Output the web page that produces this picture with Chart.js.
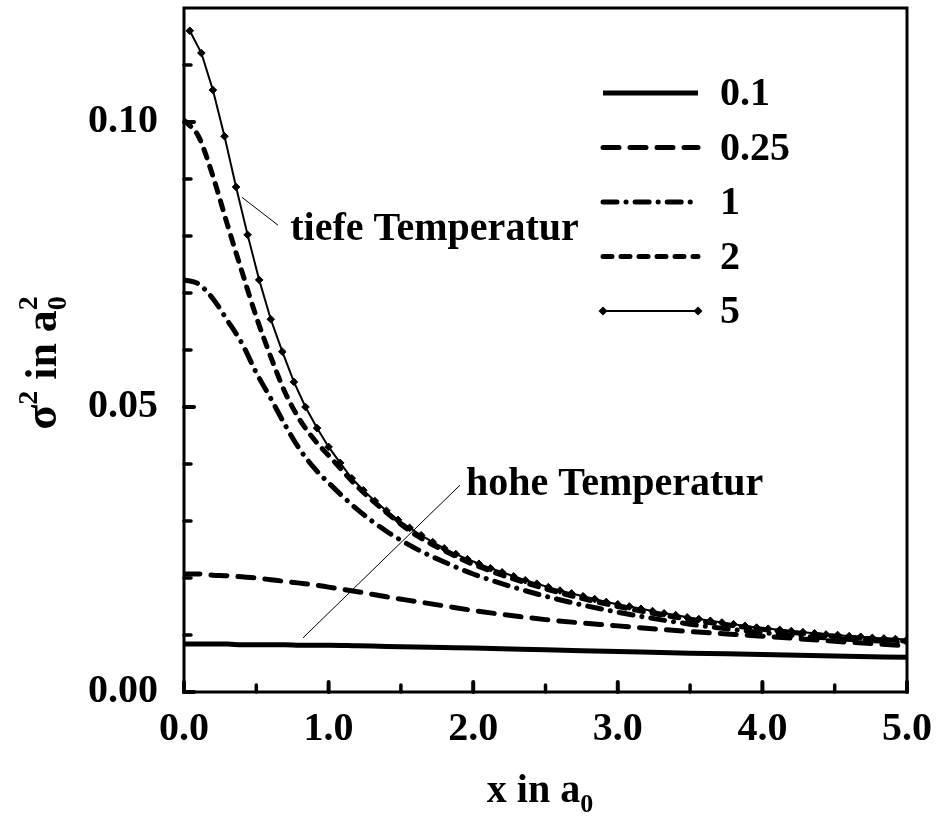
<!DOCTYPE html>
<html lang="de">
<head>
  <meta charset="UTF-8" />
  <title>sigma^2 vs x</title>
  <script src="https://cdn.jsdelivr.net/npm/chart.js"></script>
  <style>
    html, body { margin: 0; padding: 0; background: #fff; }
    canvas { display: block; }
  </style>
</head>
<body>
  <canvas id="chart" width="937" height="816"></canvas>

  <script>
    // x grid for the plain lines
    const xLine = [0, 0.1, 0.2, 0.3, 0.4, 0.5, 0.6, 0.7, 0.8, 0.9, 1.0,
                   1.2, 1.4, 1.6, 1.8, 2.0, 2.5, 3.0, 3.5, 4.0, 4.5, 5.0];

    const s01  = [0.0084, 0.0084, 0.0084, 0.0084, 0.0083, 0.0083, 0.0083, 0.0083, 0.0082, 0.0082, 0.0082,
                  0.0081, 0.0080, 0.0079, 0.0078, 0.0077, 0.0074, 0.0071, 0.0068, 0.0066, 0.0063, 0.0061];
    const s025 = [0.0207, 0.0207, 0.0205, 0.0204, 0.0202, 0.0200, 0.0197, 0.0194, 0.0191, 0.0188, 0.0184,
                  0.0176, 0.0167, 0.0159, 0.0151, 0.0143, 0.0127, 0.0116, 0.0106, 0.0098, 0.0089, 0.0081];
    const s1   = [0.0723, 0.0716, 0.0690, 0.0652, 0.0612, 0.0560, 0.0515, 0.0468, 0.0426, 0.0393, 0.0367,
                  0.0320, 0.0282, 0.0252, 0.0228, 0.0207, 0.0168, 0.0140, 0.0119, 0.0104, 0.0094, 0.0087];
    const s2   = [0.1003, 0.0975, 0.0905, 0.0820, 0.0738, 0.0658, 0.0588, 0.0525, 0.0478, 0.0443, 0.0415,
                  0.0360, 0.0315, 0.0276, 0.0248, 0.0224, 0.0181, 0.0150, 0.0127, 0.0110, 0.0098, 0.0089];

    // the diamond curve has its own, denser grid (one value per marker)
    const xMark = [0.04, 0.12, 0.20, 0.28, 0.36, 0.44, 0.52, 0.60, 0.68, 0.76, 0.84, 0.92, 1.00, 1.08, 1.16, 1.24,
                   1.32, 1.40, 1.48, 1.56, 1.64, 1.72, 1.80, 1.88, 1.96, 2.04, 2.12, 2.20, 2.28, 2.36, 2.44, 2.52,
                   2.60, 2.68, 2.76, 2.84, 2.92, 3.00, 3.08, 3.16, 3.24, 3.32, 3.40, 3.48, 3.56, 3.64, 3.72, 3.80,
                   3.88, 3.96, 4.04, 4.12, 4.20, 4.28, 4.36, 4.44, 4.52, 4.60, 4.68, 4.76, 4.84, 4.92, 5.00];
    const s5   = [0.1160, 0.1121, 0.1056, 0.0975, 0.0886, 0.0802, 0.0723, 0.0654, 0.0597, 0.0544, 0.0500, 0.0463, 0.0430, 0.0402, 0.0375, 0.0354,
                  0.0335, 0.0318, 0.0302, 0.0288, 0.0275, 0.0263, 0.0252, 0.0242, 0.0233, 0.0225, 0.0217, 0.0210, 0.0203, 0.0196, 0.0190, 0.0184,
                  0.0178, 0.0173, 0.0168, 0.0163, 0.0158, 0.0154, 0.0150, 0.0146, 0.0142, 0.0138, 0.0135, 0.0131, 0.0128, 0.0125, 0.0122, 0.0119,
                  0.0116, 0.0113, 0.0111, 0.0109, 0.0107, 0.0105, 0.0103, 0.0101, 0.0100, 0.0098, 0.0097, 0.0095, 0.0094, 0.0093, 0.0092];

    const seriesNames = ['0.1', '0.25', '1', '2', '5'];

    const xMajor = [0, 1, 2, 3, 4, 5];
    const xMinor = [0.5, 1.5, 2.5, 3.5, 4.5];
    const yMajor = [0, 0.05, 0.10];
    const yMinor = [0.01, 0.02, 0.03, 0.04, 0.06, 0.07, 0.08, 0.09, 0.11];

    // annotation: label text, leader line start/end, text anchor (data units)
    const notes = [
      { text: 'tiefe Temperatur', from: [0.40, 0.0868], to: [0.65, 0.0819], at: [0.735, 0.0793] },
      { text: 'hohe Temperatur',  from: [0.823, 0.0095], to: [1.909, 0.0363], at: [1.95, 0.0346] }
    ];

    const FONT = '"Liberation Serif", "Times New Roman", serif';
    const pts = (xs, ys) => xs.map((x, i) => ({ x: x, y: ys[i] }));

    const lineBase = { borderColor: '#000', backgroundColor: '#000', pointRadius: 0,
                       fill: false, cubicInterpolationMode: 'monotone', borderCapStyle: 'round' };

    const datasets = [
      Object.assign({}, lineBase, { label: seriesNames[0], data: pts(xLine, s01),  borderWidth: 5, borderDash: [], borderCapStyle: 'butt' }),
      Object.assign({}, lineBase, { label: seriesNames[1], data: pts(xLine, s025), borderWidth: 5, borderDash: [16, 11] }),
      Object.assign({}, lineBase, { label: seriesNames[2], data: pts(xLine, s1),   borderWidth: 5, borderDash: [14, 9, 0.1, 9] }),
      Object.assign({}, lineBase, { label: seriesNames[3], data: pts(xLine, s2),   borderWidth: 5, borderDash: [9, 9] }),
      { label: seriesNames[4], data: pts(xMark, s5), borderColor: '#000', backgroundColor: '#000',
        borderWidth: 2, tension: 0, pointStyle: 'rectRot', pointRadius: 3.8, pointBorderWidth: 1,
        pointBackgroundColor: '#000', pointBorderColor: '#000', fill: false, borderDash: [] }
    ];

    function diamond(ctx, x, y, r) {
      ctx.beginPath();
      ctx.moveTo(x, y - r); ctx.lineTo(x + r, y); ctx.lineTo(x, y + r); ctx.lineTo(x - r, y);
      ctx.closePath();
      ctx.fill();
    }

    // draw a run of text pieces: [text, size, dy, noAdvance]
    function drawPieces(ctx, pieces, x, y) {
      let cx = x;
      pieces.forEach(p => {
        ctx.font = 'bold ' + p[1] + 'px ' + FONT;
        ctx.fillText(p[0], cx, y + p[2]);
        if (!p[3]) cx += ctx.measureText(p[0]).width;
      });
      return cx - x;
    }
    function piecesWidth(ctx, pieces) {
      let w = 0;
      pieces.forEach(p => {
        ctx.font = 'bold ' + p[1] + 'px ' + FONT;
        if (!p[3]) w += ctx.measureText(p[0]).width;
      });
      return w;
    }

    const decor = {
      id: 'decor',
      afterDraw(chart) {
        const ctx = chart.ctx;
        const a = chart.chartArea;
        const xs = chart.scales.x, ys = chart.scales.y;
        ctx.save();
        ctx.fillStyle = '#000';
        ctx.strokeStyle = '#000';

        // frame
        ctx.lineWidth = 3;
        ctx.strokeRect(a.left, a.top, a.right - a.left, a.bottom - a.top);

        // inward ticks
        ctx.lineCap = 'round';
        const tick = (x1, y1, x2, y2, w) => { ctx.lineWidth = w; ctx.beginPath(); ctx.moveTo(x1, y1); ctx.lineTo(x2, y2); ctx.stroke(); };
        xMajor.forEach(v => { const p = xs.getPixelForValue(v); tick(p, a.bottom, p, a.bottom - 10, 4); });
        xMinor.forEach(v => { const p = xs.getPixelForValue(v); tick(p, a.bottom, p, a.bottom - 7, 3.5); });
        yMajor.forEach(v => { const p = ys.getPixelForValue(v); tick(a.left, p, a.left + 10, p, 4); });
        yMinor.forEach(v => { const p = ys.getPixelForValue(v); tick(a.left, p, a.left + 7, p, 3.5); });
        ctx.lineCap = 'butt';

        // annotations
        notes.forEach(n => {
          ctx.lineWidth = 1;
          ctx.beginPath();
          ctx.moveTo(xs.getPixelForValue(n.from[0]), ys.getPixelForValue(n.from[1]));
          ctx.lineTo(xs.getPixelForValue(n.to[0]), ys.getPixelForValue(n.to[1]));
          ctx.stroke();
          ctx.font = 'bold 40px ' + FONT;
          ctx.textAlign = 'left';
          ctx.textBaseline = 'alphabetic';
          ctx.fillText(n.text, xs.getPixelForValue(n.at[0]), ys.getPixelForValue(n.at[1]));
        });

        // legend
        const lx0 = 603, lx1 = 698, ltx = 720, ly0 = 93, lgap = 54.5;
        chart.data.datasets.forEach((ds, i) => {
          const y = ly0 + i * lgap;
          ctx.lineWidth = ds.borderWidth;
          ctx.lineCap = ds.borderCapStyle || 'butt';
          ctx.setLineDash(ds.borderDash || []);
          ctx.beginPath(); ctx.moveTo(lx0, y); ctx.lineTo(lx1, y); ctx.stroke();
          ctx.setLineDash([]);
          if (ds.pointStyle === 'rectRot') { diamond(ctx, lx0, y, 4.5); diamond(ctx, lx1, y, 4.5); }
          ctx.font = 'bold 40px ' + FONT;
          ctx.textAlign = 'left';
          ctx.textBaseline = 'middle';
          ctx.fillText(ds.label, ltx, y + 2);
        });

        // x axis title: x in a_0
        ctx.textAlign = 'left';
        ctx.textBaseline = 'alphabetic';
        const xt = [['x in a', 40, 0], ['0', 26, 10]];
        const xw = piecesWidth(ctx, xt);
        drawPieces(ctx, xt, 540 - xw / 2, 802);

        // y axis title: sigma^2 in a_0^2
        const yt = [['\u03c3', 46, 0], ['2', 28, -19], [' in a', 44, 0], ['0', 28, 10, true], ['2', 28, -19]];
        const yw = piecesWidth(ctx, yt);
        ctx.translate(56, 363);
        ctx.rotate(-Math.PI / 2);
        drawPieces(ctx, yt, -yw / 2, 0);

        ctx.restore();
      }
    };

    new Chart(document.getElementById('chart').getContext('2d'), {
      type: 'line',
      data: { datasets: datasets },
      options: {
        responsive: false,
        animation: false,
        layout: { padding: { top: 8, right: 30, left: 0, bottom: 0 } },
        plugins: { legend: { display: false }, tooltip: { enabled: false } },
        scales: {
          x: {
            type: 'linear', min: 0, max: 5,
            afterBuildTicks: s => { s.ticks = xMajor.map(v => ({ value: v })); },
            afterFit: s => { s.height = 124; s.paddingLeft = 0; s.paddingRight = 0; },
            grid: { display: false, drawTicks: false },
            border: { display: false },
            ticks: { color: '#000', padding: 14, maxRotation: 0, autoSkip: false,
                     font: { family: FONT, size: 40, weight: 'bold' },
                     callback: v => Number(v).toFixed(1) }
          },
          y: {
            type: 'linear', min: 0, max: 0.12,
            afterBuildTicks: s => { s.ticks = yMajor.map(v => ({ value: v })); },
            afterFit: s => { s.width = 184; s.paddingTop = 0; s.paddingBottom = 0; },
            grid: { display: false, drawTicks: false },
            border: { display: false },
            ticks: { color: '#000', padding: 26, autoSkip: false,
                     font: { family: FONT, size: 40, weight: 'bold' },
                     callback: v => Number(v).toFixed(2) }
          }
        }
      },
      plugins: [decor]
    });
  </script>
</body>
</html>
